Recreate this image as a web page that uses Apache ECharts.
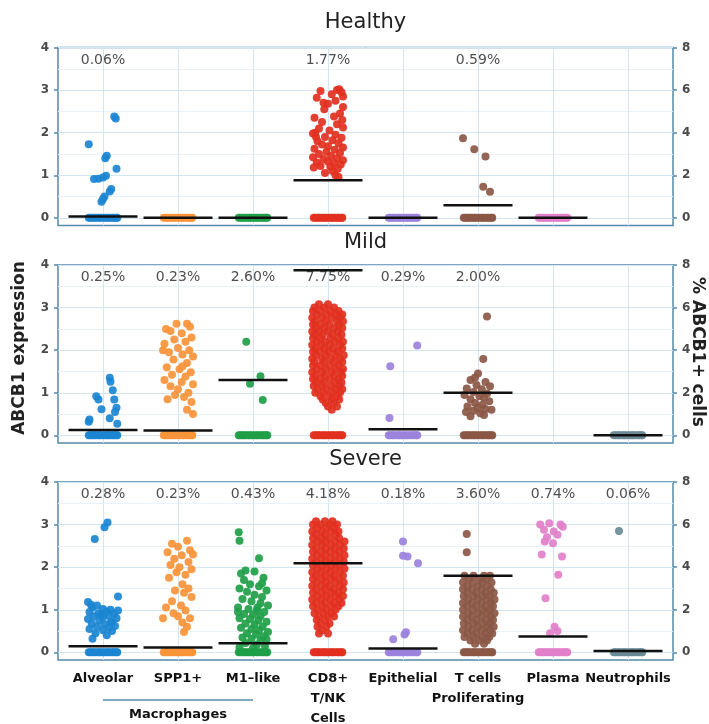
<!DOCTYPE html>
<html><head><meta charset="utf-8">
<script src="https://cdn.jsdelivr.net/npm/echarts@6/dist/echarts.min.js"></script>
<style>html,body{margin:0;padding:0;background:#fff}#c{width:709px;height:724px}</style>
</head><body><div id="c"></div><script>
// ---------- data ----------
const categories = ["Alveolar", "SPP1+", "M1\u2013like", "CD8+\nT/NK\nCells", "Epithelial", "T cells\nProliferating", "Plasma", "Neutrophils"];
const panelTitles = ["Healthy", "Mild", "Severe"];
const colors = ["#1b86d1", "#f8943a", "#1f9e48", "#e2301f", "#9b82dc", "#8b5745", "#e27fc9", "#6a8a96"];
const leftTicks = [0, 1, 2, 3, 4];
const leftMinorTicks = [0.5, 1.5, 2.5, 3.5];
const rightTicks = [0, 2, 4, 6, 8];

// % ABCB1+ cells per category (null = not shown)
const healthyPct = [0.06, 0, 0, 1.77, 0, 0.59, 0, null];
const mildPct = [0.25, 0.23, 2.60, 7.75, 0.29, 2.00, null, 0];
const severePct = [0.28, 0.23, 0.43, 4.18, 0.18, 3.60, 0.74, 0.06];

// whether a category has cells at expression 0
const healthyZero = [1, 1, 1, 1, 1, 1, 1, 0];
const mildZero = [1, 1, 1, 1, 1, 1, 0, 1];
const severeZero = [1, 1, 1, 1, 1, 1, 1, 1];
// horizontal jitter of the zero-expression cells
const zeroOffsets = [-0.19, -0.17, -0.14, -0.12, -0.09, -0.06, -0.04, -0.01, 0.02, 0.05, 0.07, 0.1, 0.13, 0.15, 0.18, 0.19];

// expressing cells: [jitter, expression]
const healthyPoints = [
  [[-0.19,1.73],[0.15,2.38],[0.17,2.33],[0.05,1.46],[0.03,1.40],[0.18,1.15],[-0.12,0.91],[-0.06,0.92],[0.0,0.95],[0.04,0.99],[0.11,0.68],[0.09,0.62],[0.02,0.5],[0.0,0.44],[-0.02,0.38]],
  [],
  [],
  [[0.15,3.02],[0.18,2.95],[-0.1,2.98],[0.05,2.9],[0.2,2.85],[-0.15,2.82],[0.1,2.75],[0.0,2.68],[-0.05,2.55],[0.2,2.6],[0.16,2.45],[-0.18,2.35],[0.08,2.38],[-0.08,2.25],[0.12,2.2],[0.2,2.12],[-0.12,2.1],[0.02,2.05],[-0.2,1.98],[0.1,1.95],[-0.04,1.9],[0.18,1.88],[0.06,1.82],[-0.14,1.8],[0.14,1.75],[-0.08,1.72],[0.0,1.68],[0.2,1.65],[-0.18,1.62],[0.09,1.6],[-0.02,1.55],[0.16,1.52],[-0.12,1.5],[0.04,1.45],[-0.2,1.42],[0.12,1.4],[-0.06,1.38],[0.2,1.35],[0.0,1.32],[-0.15,1.3],[0.08,1.28],[0.17,1.25],[-0.1,1.22],[0.03,1.2],[-0.19,1.18],[0.13,1.15],[0.06,1.1],[-0.04,1.05],[0.1,1.0],[0.14,0.96],[-0.16,1.9],[0.19,2.3],[-0.06,2.7],[0.12,3.0],[-0.17,2.0]],
  [],
  [[-0.2,1.87],[-0.05,1.61],[0.1,1.44],[0.07,0.73],[0.16,0.61]],
  [],
  []
];
const mildPoints = [
  [[-0.18,0.37],[-0.09,0.92],[-0.06,0.84],[-0.02,0.61],[0.09,1.35],[0.1,1.26],[0.13,1.06],[0.15,0.84],[0.18,0.65],[0.09,0.40],[0.19,0.27],[-0.19,0.32],[0.16,0.55]],
  [[-0.16,2.5],[-0.1,2.45],[0.12,2.62],[0.16,2.55],[0.05,2.4],[0.18,2.3],[-0.05,2.25],[0.1,2.2],[-0.18,2.15],[0.0,2.05],[0.15,2.0],[-0.12,1.95],[0.06,1.9],[0.2,1.85],[-0.06,1.78],[0.12,1.7],[-0.15,1.6],[0.02,1.55],[0.17,1.48],[-0.08,1.42],[0.1,1.38],[-0.18,1.3],[0.05,1.25],[0.2,1.2],[-0.1,1.15],[0.0,1.08],[0.14,1.0],[-0.04,0.95],[0.08,0.9],[-0.14,0.85],[0.18,0.78],[0.12,0.6],[0.2,0.5],[-0.02,2.62],[0.06,1.62],[-0.2,2.0]],
  [[-0.09,2.2],[0.1,1.39],[-0.04,1.21],[0.13,0.83]],
  [[-0.12,3.08],[0.0,3.08],[-0.18,3.0],[-0.05,3.0],[0.08,3.0],[-0.2,2.92],[-0.1,2.92],[0.03,2.92],[0.14,2.92],[-0.15,2.84],[-0.02,2.84],[0.1,2.84],[0.19,2.84],[-0.21,2.76],[-0.08,2.76],[0.05,2.76],[0.16,2.76],[-0.17,2.68],[-0.03,2.68],[0.12,2.68],[0.2,2.68],[-0.2,2.6],[-0.1,2.6],[0.02,2.6],[0.15,2.6],[-0.16,2.52],[-0.05,2.52],[0.08,2.52],[0.19,2.52],[-0.21,2.44],[-0.12,2.44],[0.0,2.44],[0.13,2.44],[-0.18,2.36],[-0.07,2.36],[0.06,2.36],[0.18,2.36],[-0.2,2.28],[-0.1,2.28],[0.03,2.28],[0.14,2.28],[-0.15,2.2],[-0.04,2.2],[0.09,2.2],[0.2,2.2],[-0.21,2.12],[-0.09,2.12],[0.02,2.12],[0.16,2.12],[-0.17,2.04],[-0.05,2.04],[0.07,2.04],[0.19,2.04],[-0.2,1.96],[-0.11,1.96],[0.01,1.96],[0.13,1.96],[-0.16,1.88],[-0.03,1.88],[0.1,1.88],[0.21,1.88],[-0.21,1.8],[-0.08,1.8],[0.04,1.8],[0.16,1.8],[-0.18,1.72],[-0.05,1.72],[0.08,1.72],[0.19,1.72],[-0.2,1.64],[-0.1,1.64],[0.02,1.64],[0.14,1.64],[-0.15,1.56],[-0.03,1.56],[0.1,1.56],[0.2,1.56],[-0.21,1.48],[-0.08,1.48],[0.05,1.48],[0.17,1.48],[-0.17,1.4],[-0.04,1.4],[0.08,1.4],[0.19,1.4],[-0.2,1.32],[-0.1,1.32],[0.02,1.32],[0.14,1.32],[-0.16,1.24],[-0.05,1.24],[0.09,1.24],[0.18,1.24],[-0.19,1.16],[-0.08,1.16],[0.04,1.16],[0.15,1.16],[-0.14,1.08],[-0.02,1.08],[0.1,1.08],[0.19,1.08],[-0.17,1.0],[-0.06,1.0],[0.06,1.0],[0.16,1.0],[-0.1,0.92],[0.02,0.92],[0.12,0.92],[-0.07,0.84],[0.05,0.84],[0.15,0.84],[-0.03,0.76],[0.08,0.76],[0.0,0.68],[0.12,0.68],[0.05,0.6]],
  [[-0.17,1.62],[0.19,2.11],[-0.18,0.41]],
  [[0.12,2.79],[0.07,1.79],[-0.04,1.36],[0.0,1.45],[-0.1,1.3],[0.1,1.25],[-0.02,1.18],[0.16,1.15],[-0.15,1.1],[0.05,1.08],[-0.06,1.02],[0.12,0.98],[-0.18,0.95],[0.02,0.92],[0.08,0.88],[-0.1,0.85],[0.15,0.8],[-0.04,0.76],[0.06,0.72],[-0.14,0.68],[0.1,0.62],[-0.06,0.58],[0.03,0.52],[-0.16,0.55],[0.08,0.48],[-0.1,0.45],[0.18,0.6],[0.0,0.65]],
  [],
  []
];
const severePoints = [
  [[-0.11,2.66],[0.02,2.94],[0.06,3.05],[0.2,1.31],[-0.2,1.18],[-0.14,1.05],[-0.08,1.1],[0.0,1.02],[0.1,1.0],[-0.18,0.95],[-0.06,0.92],[0.05,0.96],[0.15,0.9],[-0.12,0.85],[0.0,0.82],[0.08,0.86],[0.18,0.8],[-0.2,0.78],[-0.05,0.75],[0.12,0.72],[-0.15,0.68],[0.02,0.66],[0.16,0.62],[-0.08,0.6],[0.08,0.58],[-0.18,0.55],[0.0,0.52],[0.12,0.5],[-0.1,0.45],[0.05,0.4],[-0.14,0.32],[0.1,0.7],[-0.02,0.88],[0.2,0.98],[-0.16,1.12]],
  [[0.12,2.62],[-0.08,2.55],[0.0,2.48],[0.16,2.4],[-0.14,2.35],[0.05,2.28],[-0.05,2.2],[0.14,2.12],[-0.1,2.05],[0.02,2.0],[0.18,1.95],[-0.02,1.88],[0.1,1.82],[-0.12,1.75],[0.06,1.6],[0.14,1.5],[-0.04,1.45],[0.08,1.4],[0.18,1.3],[-0.08,1.2],[0.04,1.1],[-0.16,1.05],[0.1,0.98],[-0.2,0.8],[0.0,0.85],[0.16,0.8],[0.06,0.7],[0.12,0.6],[0.08,0.48],[-0.06,0.92],[0.2,2.3]],
  [[-0.19,2.82],[-0.18,2.62],[0.08,2.21],[-0.1,1.92],[0.02,1.9],[-0.16,1.85],[0.14,1.75],[-0.04,1.6],[0.08,1.55],[-0.18,1.5],[0.18,1.45],[-0.08,1.42],[0.02,1.35],[0.12,1.3],[-0.14,1.25],[-0.02,1.2],[0.1,1.15],[0.2,1.1],[-0.2,1.05],[-0.06,1.02],[0.05,0.98],[0.15,0.95],[-0.12,0.9],[0.0,0.88],[0.1,0.85],[-0.18,0.8],[-0.04,0.78],[0.07,0.75],[0.18,0.72],[-0.1,0.68],[0.02,0.65],[0.13,0.6],[-0.16,0.58],[-0.02,0.55],[0.08,0.52],[0.2,0.48],[-0.08,0.45],[0.04,0.42],[0.14,0.38],[-0.14,0.35],[-0.02,0.32],[0.1,0.28],[-0.1,0.22],[0.05,0.18],[0.16,0.15],[-0.18,0.12],[0.0,0.1],[0.12,1.62],[-0.12,1.7],[0.06,1.05],[-0.2,0.95],[0.18,0.3]],
  [[-0.16,3.08],[-0.04,3.08],[0.06,3.08],[-0.2,3.0],[-0.1,3.0],[0.02,3.0],[0.12,3.0],[-0.14,2.92],[-0.02,2.92],[0.08,2.92],[-0.21,2.84],[-0.08,2.84],[0.04,2.84],[0.14,2.84],[-0.16,2.76],[-0.04,2.76],[0.1,2.76],[-0.2,2.68],[-0.09,2.68],[0.02,2.68],[0.15,2.68],[-0.14,2.6],[-0.03,2.6],[0.1,2.6],[0.22,2.6],[-0.21,2.52],[-0.08,2.52],[0.04,2.52],[0.16,2.52],[-0.16,2.44],[-0.03,2.44],[0.09,2.44],[0.21,2.44],[-0.2,2.36],[-0.09,2.36],[0.03,2.36],[0.15,2.36],[-0.15,2.28],[-0.04,2.28],[0.1,2.28],[0.22,2.28],[-0.21,2.2],[-0.09,2.2],[0.03,2.2],[0.16,2.2],[-0.16,2.12],[-0.03,2.12],[0.09,2.12],[0.21,2.12],[-0.2,2.04],[-0.08,2.04],[0.04,2.04],[0.15,2.04],[-0.14,1.96],[-0.02,1.96],[0.1,1.96],[0.22,1.96],[-0.21,1.88],[-0.09,1.88],[0.03,1.88],[0.16,1.88],[-0.16,1.8],[-0.04,1.8],[0.08,1.8],[0.2,1.8],[-0.2,1.72],[-0.08,1.72],[0.04,1.72],[0.15,1.72],[-0.15,1.64],[-0.03,1.64],[0.1,1.64],[0.21,1.64],[-0.21,1.56],[-0.09,1.56],[0.02,1.56],[0.16,1.56],[-0.16,1.48],[-0.04,1.48],[0.08,1.48],[0.2,1.48],[-0.2,1.4],[-0.08,1.4],[0.04,1.4],[0.14,1.4],[-0.14,1.32],[-0.02,1.32],[0.1,1.32],[0.2,1.32],[-0.21,1.24],[-0.09,1.24],[0.03,1.24],[0.15,1.24],[-0.16,1.16],[-0.04,1.16],[0.08,1.16],[0.18,1.16],[-0.2,1.08],[-0.08,1.08],[0.04,1.08],[0.14,1.08],[-0.14,1.0],[-0.02,1.0],[0.1,1.0],[-0.18,0.92],[-0.06,0.92],[0.05,0.92],[-0.12,0.84],[0.0,0.84],[0.08,0.84],[-0.15,0.76],[-0.04,0.76],[-0.1,0.68],[0.02,0.68],[-0.14,0.6],[-0.02,0.6],[-0.08,0.52],[-0.12,0.44],[0.0,0.44]],
  [[0.0,2.6],[0.0,2.27],[0.06,2.25],[0.2,2.09],[-0.13,0.31],[0.02,0.42],[0.04,0.47]],
  [[-0.15,2.78],[-0.15,2.35],[-0.18,1.8],[-0.06,1.8],[0.08,1.8],[0.16,1.8],[-0.12,1.72],[0.02,1.72],[0.12,1.72],[-0.2,1.64],[-0.07,1.64],[0.06,1.64],[0.18,1.64],[-0.14,1.56],[0.0,1.56],[0.12,1.56],[-0.2,1.48],[-0.08,1.48],[0.05,1.48],[0.17,1.48],[-0.14,1.4],[-0.02,1.4],[0.1,1.4],[0.21,1.4],[-0.19,1.32],[-0.06,1.32],[0.06,1.32],[0.16,1.32],[-0.13,1.24],[0.0,1.24],[0.12,1.24],[0.22,1.24],[-0.2,1.16],[-0.08,1.16],[0.05,1.16],[0.17,1.16],[-0.14,1.08],[-0.02,1.08],[0.1,1.08],[0.2,1.08],[-0.2,1.0],[-0.07,1.0],[0.06,1.0],[0.16,1.0],[-0.13,0.92],[0.0,0.92],[0.12,0.92],[0.22,0.92],[-0.2,0.84],[-0.08,0.84],[0.05,0.84],[0.17,0.84],[-0.14,0.76],[-0.02,0.76],[0.1,0.76],[0.2,0.76],[-0.19,0.68],[-0.06,0.68],[0.06,0.68],[0.16,0.68],[-0.13,0.6],[0.0,0.6],[0.12,0.6],[0.21,0.6],[-0.2,0.52],[-0.08,0.52],[0.05,0.52],[0.16,0.52],[-0.14,0.44],[-0.02,0.44],[0.1,0.44],[0.19,0.44],[-0.18,0.36],[-0.06,0.36],[0.06,0.36],[0.15,0.36],[-0.1,0.28],[0.02,0.28],[0.12,0.28],[-0.04,0.2],[0.08,0.2]],
  [[-0.17,3.0],[-0.05,3.03],[0.1,3.0],[0.13,2.95],[-0.12,2.88],[0.01,2.84],[0.06,2.76],[-0.08,2.7],[-0.11,2.6],[0.0,2.56],[0.12,2.25],[-0.15,2.3],[0.07,1.82],[-0.1,1.27],[0.02,0.6],[0.06,0.5],[-0.04,0.45]],
  [[-0.12,2.85]]
];

// ---------- layout / style ----------
const FONT = '"DejaVu Sans", "Liberation Sans", sans-serif';
const BORDER = '#5689ab';
const gridTops = [47.5, 265, 482];
const gridLeft = 58, gridWidth = 615, gridHeight = 178;
const panelPct = [healthyPct, mildPct, severePct];
const panelZero = [healthyZero, mildZero, severeZero];
const panelPoints = [healthyPoints, mildPoints, severePoints];
const catPos = categories.map((_, i) => i + 1);

const grid = gridTops.map(t => ({
  left: gridLeft, width: gridWidth, top: t, height: gridHeight,
  show: true, backgroundColor: '#fff', borderColor: BORDER, borderWidth: 1.5,
  containLabel: false, outerBoundsMode: 'none'
}));

const xAxis = panelTitles.map((_, p) => ({
  type: 'value', gridIndex: p, min: 0.4, max: 8.6,
  axisLine: { show: false },
  axisTick: { show: p === 2, customValues: catPos, length: 4, lineStyle: { color: BORDER, width: 1.5 } },
  axisLabel: {
    show: p === 2, customValues: catPos, margin: 9,
    formatter: v => categories[Math.round(v) - 1],
    fontFamily: FONT, fontSize: 13, fontWeight: 'bold', color: '#111', lineHeight: 20
  },
  splitLine: { show: true, lineStyle: { color: '#d4e6f1', width: 1 } }
}));

const yAxis = [];
panelTitles.forEach((_, p) => {
  yAxis.push({
    type: 'value', gridIndex: p, position: 'left', min: -0.18, max: 4,
    axisLine: { show: false },
    axisTick: { show: true, customValues: leftTicks, length: 4, lineStyle: { color: BORDER, width: 1.5 } },
    axisLabel: { customValues: leftTicks, margin: 9, fontFamily: FONT, fontSize: 12, fontWeight: 'bold', color: '#4a4a4a' },
    splitLine: { show: true, lineStyle: { color: '#d4e6f1', width: 1 } }
  });
  yAxis.push({
    type: 'value', gridIndex: p, position: 'right', min: -0.36, max: 8,
    axisLine: { show: false },
    axisTick: { show: true, customValues: rightTicks, length: 4, lineStyle: { color: BORDER, width: 1.5 } },
    axisLabel: { customValues: rightTicks, margin: 9, fontFamily: FONT, fontSize: 12, fontWeight: 'bold', color: '#4a4a4a' },
    splitLine: { show: false }
  });
  yAxis.push({
    type: 'value', gridIndex: p, position: 'left', min: -0.18, max: 4,
    axisLine: { show: false },
    axisTick: { show: false, customValues: leftMinorTicks },
    axisLabel: { show: false, customValues: leftMinorTicks },
    splitLine: { show: true, lineStyle: { color: '#e9f2f8', width: 1 } }
  });
});

const series = [];
panelTitles.forEach((_, p) => {
  categories.forEach((_, c) => {
    const zeros = panelZero[p][c] ? zeroOffsets.map(dx => [c + 1 + dx, 0]) : [];
    const pts = panelPoints[p][c].map(d => [c + 1 + d[0], d[1]]);
    const data = zeros.concat(pts);
    if (!data.length) return;
    series.push({
      type: 'scatter', xAxisIndex: p, yAxisIndex: 3 * p, data: data,
      symbol: 'circle', symbolSize: 8, silent: true, z: 2,
      itemStyle: { color: colors[c], opacity: 0.92 }
    });
  });
  // % ABCB1+ lines (right axis)
  const lineData = [];
  panelPct[p].forEach((v, c) => { if (v !== null) lineData.push([c + 1, v]); });
  series.push({
    type: 'custom', xAxisIndex: p, yAxisIndex: 3 * p + 1, data: lineData, z: 5, silent: true,
    renderItem: (params, api) => {
      const x = api.value(0), y = api.value(1);
      const a = api.coord([x - 0.46, y]), b = api.coord([x + 0.46, y]);
      return { type: 'line', shape: { x1: a[0], y1: a[1], x2: b[0], y2: b[1] },
               style: { stroke: '#111', lineWidth: 2.5 } };
    }
  });
  // percentage labels
  const labData = [];
  panelPct[p].forEach((v, c) => { if (v !== null && v > 0) labData.push([c + 1, 3.7, v]); });
  series.push({
    type: 'scatter', xAxisIndex: p, yAxisIndex: 3 * p, data: labData, symbol: 'circle', symbolSize: 1,
    silent: true, z: 6, itemStyle: { color: 'rgba(0,0,0,0)' },
    label: { show: true, position: 'inside', formatter: d => d.value[2].toFixed(2) + '%',
             fontFamily: FONT, fontSize: 14, color: '#222' }
  });
});

const titleY = [23, 243, 460];
const graphic = panelTitles.map((t, p) => ({
  type: 'text', x: gridLeft + gridWidth / 2, y: titleY[p],
  style: { text: t, fontFamily: FONT, fontSize: 21, fill: '#222',
           align: 'center', verticalAlign: 'middle', textAlign: 'center', textVerticalAlign: 'middle' }
}));
graphic.push({
  type: 'text', x: 20, y: 348, rotation: Math.PI / 2,
  style: { text: 'ABCB1 expression', fontFamily: FONT, fontSize: 17, fontWeight: 'bold', fill: '#222',
           align: 'center', verticalAlign: 'middle', textAlign: 'center', textVerticalAlign: 'middle' }
});
graphic.push({
  type: 'text', x: 697, y: 352, rotation: -Math.PI / 2,
  style: { text: '% ABCB1+ cells', fontFamily: FONT, fontSize: 17, fontWeight: 'bold', fill: '#222',
           align: 'center', verticalAlign: 'middle', textAlign: 'center', textVerticalAlign: 'middle' }
});

const chart = echarts.init(document.getElementById('c'), null, { renderer: 'canvas' });
chart.setOption({ animation: false, backgroundColor: '#fff', grid, xAxis, yAxis, series, graphic });

// Macrophages bracket under the first three categories
const x1 = chart.convertToPixel({ xAxisIndex: 2 }, 1);
const x3 = chart.convertToPixel({ xAxisIndex: 2 }, 3);
graphic.push({ type: 'line', shape: { x1: x1, y1: 700, x2: x3, y2: 700 }, style: { stroke: BORDER, lineWidth: 1.5 } });
graphic.push({
  type: 'text', x: (x1 + x3) / 2, y: 715,
  style: { text: 'Macrophages', fontFamily: FONT, fontSize: 13, fontWeight: 'bold', fill: '#111',
           align: 'center', verticalAlign: 'middle', textAlign: 'center', textVerticalAlign: 'middle' }
});
chart.setOption({ graphic });
</script></body></html>
